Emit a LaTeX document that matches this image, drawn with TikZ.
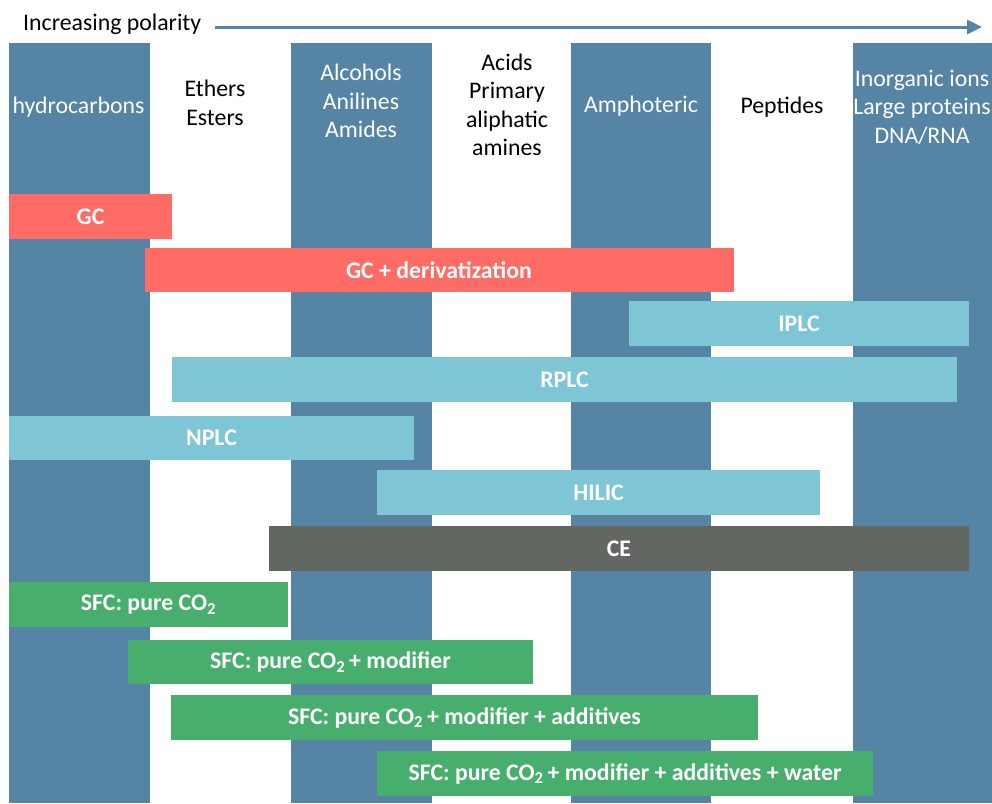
\documentclass[tikz,border=0pt]{standalone}
\usepackage{fontspec}
\setmainfont{Carlito}
\usetikzlibrary{arrows.meta}
\definecolor{colblue}{RGB}{85,132,165}
\definecolor{gcred}{RGB}{255,108,102}
\definecolor{lcblue}{RGB}{126,198,213}
\definecolor{cegray}{RGB}{98,103,98}
\definecolor{sfcgreen}{RGB}{72,174,110}
\tikzset{
  column/.style={fill=colblue, draw=none},
  header/.style={align=center, font=\fontsize{23.8}{28.5}\selectfont, inner sep=0pt},
  bar/.style={minimum height=45pt, inner sep=0pt, font=\fontsize{23.8}{28}\selectfont\bfseries, text=white, draw=none},
}
\begin{document}
\begin{tikzpicture}[x=1pt,y=-1pt]
\useasboundingbox (0,0) rectangle (992,803);
\fill[white] (0,0) rectangle (992,803);
% columns
\fill[column] (9,43) rectangle (150,803);
\fill[column] (291,43) rectangle (431.5,803);
\fill[column] (571,43) rectangle (711,803);
\fill[column] (852.5,43) rectangle (992,803);
% headers
\node[header, text=white] (h1) at (78.5,107) {hydrocarbons};
\node[header] (h2) at (215,103) {Ethers\\Esters};
\node[header, text=white] (h3) at (361,101) {Alcohols\\Anilines\\Amides};
\node[header] (h4) at (507,105) {Acids\\Primary\\aliphatic\\amines};
\node[header, text=white] (h5) at (641,106) {Amphoteric};
\node[header] (h6) at (782,107) {Peptides};
\node[header, text=white] (h7) at (922,107) {Inorganic ions\\Large proteins\\DNA/RNA};
% title and arrow
\node[anchor=base west, inner sep=0pt, font=\fontsize{23.8}{28}\selectfont] (title) at (23,30) {Increasing polarity};
\coordinate (aS) at (215,27);
\coordinate (aE) at (982,27);
\draw[colblue, line width=3pt, -{Triangle[length=15pt,width=14pt]}] (aS) -- (aE);
% bars
\node[bar, fill=gcred, minimum width=163pt] (gc) at (90.5,216.5) {GC};
\node[bar, fill=gcred, minimum width=589pt, minimum height=44pt] (gcd) at (439,270) {GC + derivatization};
\node[bar, fill=lcblue, minimum width=340pt] (iplc) at (799,323.5) {IPLC};
\node[bar, fill=lcblue, minimum width=785pt] (rplc) at (564.5,379.5) {RPLC};
\node[bar, fill=lcblue, minimum width=405pt, minimum height=44pt] (nplc) at (211.5,438) {NPLC};
\node[bar, fill=lcblue, minimum width=443pt] (hilic) at (598.5,492.5) {HILIC};
\node[bar, fill=cegray, minimum width=700pt] (ce) at (619,548.5) {CE};
\node[bar, fill=sfcgreen, minimum width=279pt] (sfc1) at (148.5,604.5) {SFC: pure CO\textsubscript{2}};
\node[bar, fill=sfcgreen, minimum width=405pt, minimum height=44pt] (sfc2) at (330.5,662) {SFC: pure CO\textsubscript{2}\,+ modifier};
\node[bar, fill=sfcgreen, minimum width=587pt] (sfc3) at (464.5,717.5) {SFC: pure CO\textsubscript{2}\,+ modifier + additives};
\node[bar, fill=sfcgreen, minimum width=496pt] (sfc4) at (625,773.5) {SFC: pure CO\textsubscript{2}\,+ modifier + additives + water};
\end{tikzpicture}
\end{document}
